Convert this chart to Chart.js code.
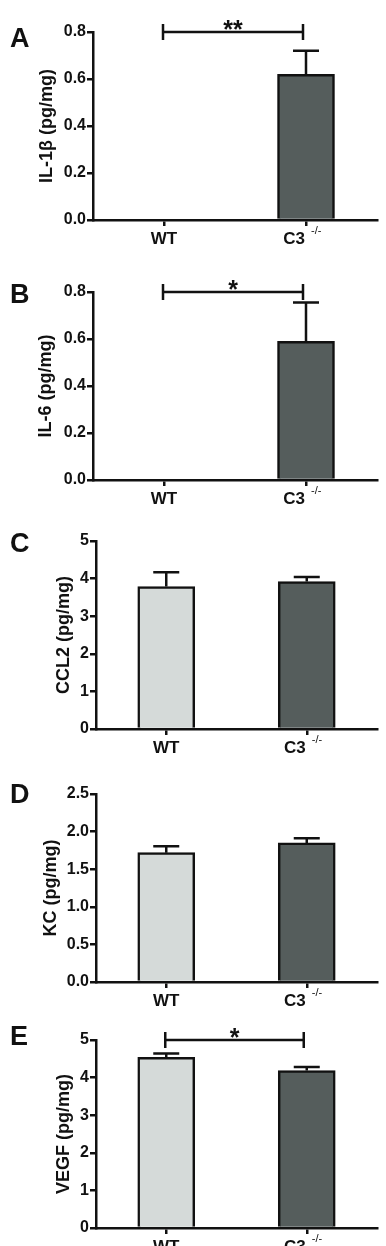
<!DOCTYPE html>
<html>
<head>
<meta charset="utf-8">
<script src="https://cdn.jsdelivr.net/npm/chart.js@4.4.1/dist/chart.umd.min.js"></script>
<style>
	html, body { margin: 0; padding: 0; background: #fff; }
	body { width: 386px; height: 1246px; position: relative; overflow: hidden; }
	.panel { position: absolute; left: 0; width: 386px; height: 250px; }
</style>
</head>
<body>
<div class="panel" id="p0"><canvas id="c0" width="386" height="250"></canvas></div>
<div class="panel" id="p1"><canvas id="c1" width="386" height="250"></canvas></div>
<div class="panel" id="p2"><canvas id="c2" width="386" height="250"></canvas></div>
<div class="panel" id="p3"><canvas id="c3" width="386" height="250"></canvas></div>
<div class="panel" id="p4"><canvas id="c4" width="386" height="250"></canvas></div>
<script>
// data (mean and upper SEM)
const groups = ['WT', 'C3'];
const il1bMean = [0, 0.62];
const il1bErr = [0, 0.10];
const il6Mean = [0, 0.59];
const il6Err = [0, 0.165];
const ccl2Mean = [3.79, 3.92];
const ccl2Err = [0.38, 0.12];
const kcMean = [1.72, 1.85];
const kcErr = [0.085, 0.06];
const vegfMean = [4.54, 4.19];
const vegfErr = [0.10, 0.09];

const panelLetters = ['A', 'B', 'C', 'D', 'E'];
const yTitles = ['IL-1β (pg/mg)', 'IL-6 (pg/mg)', 'CCL2 (pg/mg)', 'KC (pg/mg)', 'VEGF (pg/mg)'];
const yMax = [0.8, 0.8, 5, 2.5, 5];
const yStep = [0.2, 0.2, 1, 0.5, 1];
const yDecimals = [1, 1, 0, 1, 0];
const sigMarks = ['**', '*', '', '', '*'];

const means = [il1bMean, il6Mean, ccl2Mean, kcMean, vegfMean];
const errs = [il1bErr, il6Err, ccl2Err, kcErr, vegfErr];

// look and layout
const barColors = ['#d5dad9', '#555d5c'];
const ink = '#111';
const fontFam = "'Liberation Sans', Arial, sans-serif";
const panelTop = [0, 260, 509, 762, 1008];
const axisLeft = [93, 93, 96, 96, 96];
const titleX = [47, 46, 64, 51, 64];
const letterBase = [47, 43, 43, 41, 37];

Chart.defaults.font.family = fontFam;

const extras = {
	id: 'extras',
	afterDatasetsDraw(chart, args, opts) {
		const ctx = chart.ctx;
		const x = chart.scales.x;
		const y = chart.scales.y;
		const meta = chart.getDatasetMeta(0);
		ctx.save();
		ctx.strokeStyle = ink;
		ctx.fillStyle = ink;
		ctx.lineWidth = 2.5;

		// error bars, upper half only
		meta.data.forEach((bar, i) => {
			const e = opts.err[i];
			if (!e) return;
			const base = y.getPixelForValue(opts.mean[i]);
			const top = y.getPixelForValue(opts.mean[i] + e);
			ctx.beginPath();
			ctx.moveTo(bar.x, base);
			ctx.lineTo(bar.x, top);
			ctx.moveTo(bar.x - 13, top);
			ctx.lineTo(bar.x + 13, top);
			ctx.stroke();
		});

		// significance bracket at the top of the axis
		if (opts.sig) {
			const by = y.getPixelForValue(y.max);
			const x0 = x.getPixelForValue(0) - 1;
			const x1 = x.getPixelForValue(1) - 3;
			ctx.beginPath();
			ctx.moveTo(x0, by); ctx.lineTo(x1, by);
			ctx.moveTo(x0, by - 8); ctx.lineTo(x0, by + 8);
			ctx.moveTo(x1, by - 8); ctx.lineTo(x1, by + 8);
			ctx.stroke();
			ctx.font = 'bold 25px ' + fontFam;
			ctx.textAlign = 'center';
			ctx.textBaseline = 'alphabetic';
			ctx.fillText(opts.sig, (x0 + x1) / 2, by + 6);
		}

		// superscript on the knockout label
		ctx.font = '11px ' + fontFam;
		ctx.textAlign = 'left';
		ctx.fillText('-/-', x.getPixelForValue(1) + 5, chart.chartArea.bottom + 14);

		// panel letter
		ctx.font = 'bold 27px ' + fontFam;
		ctx.fillText(opts.letter, 10, opts.letterY);
		ctx.restore();
	}
};

panelLetters.forEach((letter, i) => {
	document.getElementById('p' + i).style.top = panelTop[i] + 'px';
	const ctx = document.getElementById('c' + i);
	new Chart(ctx, {
		type: 'bar',
		data: {
			labels: groups,
			datasets: [{
				data: means[i],
				backgroundColor: barColors,
				borderColor: ink,
				borderWidth: 2.5,
				borderSkipped: 'start',
				barThickness: 57
			}]
		},
		options: {
			responsive: false,
			animation: false,
			layout: { padding: { top: 32, right: 9, left: 0, bottom: 0 } },
			plugins: {
				legend: { display: false },
				tooltip: { enabled: false },
				extras: { mean: means[i], err: errs[i], sig: sigMarks[i], letter: letter, letterY: letterBase[i] }
			},
			scales: {
				x: {
					border: { color: ink, width: 2.5 },
					grid: { offset: false, drawOnChartArea: false, tickLength: 6, color: ink, lineWidth: 2.5 },
					ticks: {
						padding: 3,
						color: ink,
						maxRotation: 0,
						font: { size: 17, weight: 'bold' },
						callback: (v, idx) => idx === 1 ? groups[idx] + '     ' : groups[idx]
					},
					afterFit: scale => { scale.height = 30; }
				},
				y: {
					min: 0,
					max: yMax[i],
					border: { color: ink, width: 2.5 },
					grid: { drawOnChartArea: false, tickLength: 6, color: ink, lineWidth: 2.5 },
					ticks: {
						stepSize: yStep[i],
						padding: 1,
						color: ink,
						font: { size: 16, weight: 'bold' },
						callback: v => Number(v).toFixed(yDecimals[i])
					},
					title: {
						display: true,
						text: yTitles[i],
						color: ink,
						font: { size: 18, weight: 'bold' },
						padding: { top: titleX[i] - 10.8, bottom: 0 }
					},
					afterFit: scale => { scale.width = axisLeft[i]; }
				}
			}
		},
		plugins: [extras]
	});
});
</script>
</body>
</html>
